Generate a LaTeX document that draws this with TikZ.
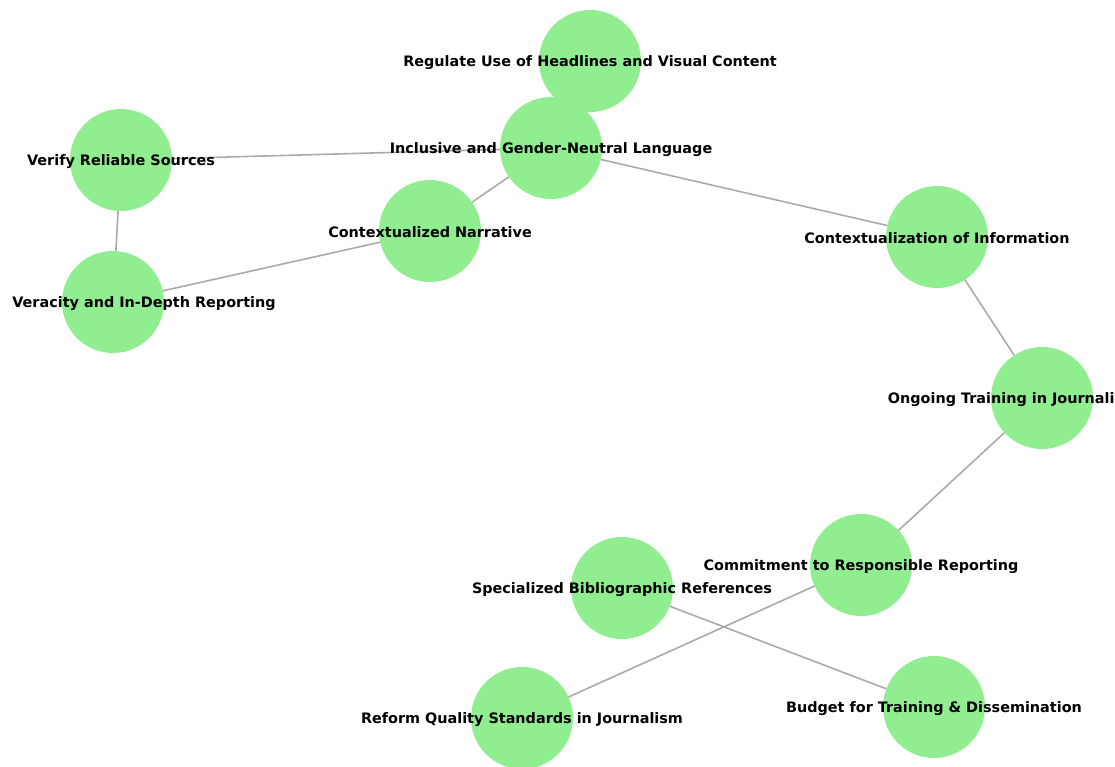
\documentclass[tikz,border=0pt]{standalone}
\usepackage{fontspec}
\setmainfont{DejaVu Sans}
\definecolor{nodegreen}{RGB}{144,238,144}
\definecolor{edgegray}{RGB}{170,170,170}
\tikzset{
  circ/.style={circle, fill=nodegreen, minimum size=102pt, inner sep=0pt, outer sep=0pt},
  lab/.style={font=\fontsize{14.4}{16}\selectfont\bfseries, text=black, inner sep=0pt, yshift=-1.5pt},
  edge/.style={draw=edgegray, line width=1.6pt}
}
\begin{document}
\begin{tikzpicture}[x=1pt,y=-1pt]
\useasboundingbox (0,0) rectangle (1115,766);
\clip (0,0) rectangle (1115,766);
% nodes
\node[circ] (reg) at (590,61) {};
\node[circ] (inc) at (551,148) {};
\node[circ] (ver) at (121,160) {};
\node[circ] (cn) at (430,231) {};
\node[circ] (vid) at (113,302) {};
\node[circ] (ci) at (937,237) {};
\node[circ] (ong) at (1042,398) {};
\node[circ] (com) at (861,565) {};
\node[circ] (spe) at (622,588) {};
\node[circ] (ref) at (522,718) {};
\node[circ] (bud) at (934,707) {};
% edges
\draw[edge] (ver) -- (inc);
\draw[edge] (ver) -- (vid);
\draw[edge] (vid) -- (cn);
\draw[edge] (cn) -- (inc);
\draw[edge] (inc) -- (ci);
\draw[edge] (ci) -- (ong);
\draw[edge] (ong) -- (com);
\draw[edge] (com) -- (ref);
\draw[edge] (spe) -- (bud);
% labels
\node[lab] at (reg) {Regulate Use of Headlines and Visual Content};
\node[lab] at (inc) {Inclusive and Gender-Neutral Language};
\node[lab] at (ver) {Verify Reliable Sources};
\node[lab] at (cn) {Contextualized Narrative};
\node[lab, xshift=31pt] at (vid) {Veracity and In-Depth Reporting};
\node[lab] at (ci) {Contextualization of Information};
\node[lab, xshift=-29pt] at (ong) {Ongoing Training in Journalism};
\node[lab] at (com) {Commitment to Responsible Reporting};
\node[lab] at (spe) {Specialized Bibliographic References};
\node[lab] at (ref) {Reform Quality Standards in Journalism};
\node[lab] at (bud) {Budget for Training \& Dissemination};
\end{tikzpicture}
\end{document}
